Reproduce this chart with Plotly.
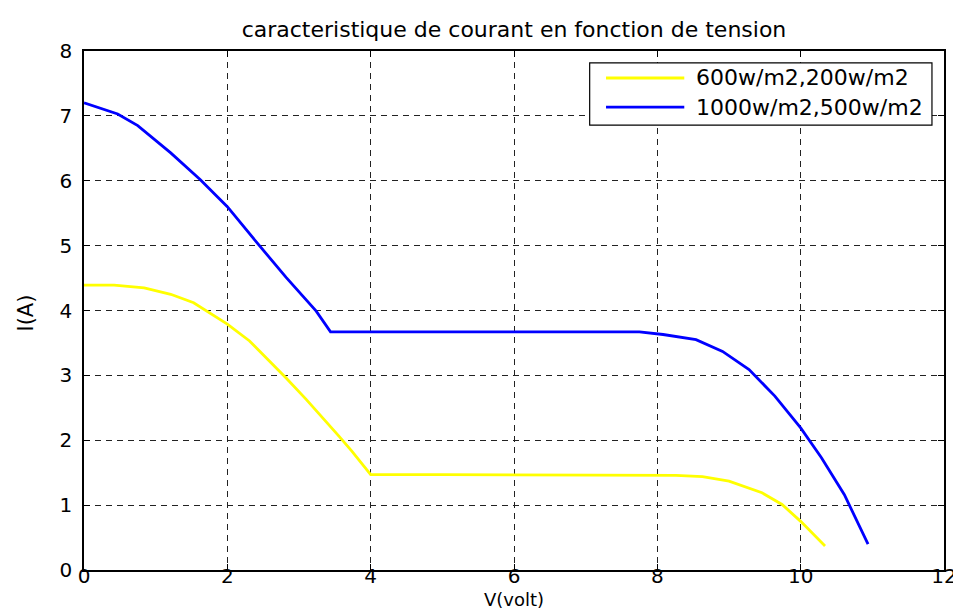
import plotly.graph_objects as go

# ---- data ----
series_names = ["600w/m2,200w/m2", "1000w/m2,500w/m2"]

v_600 = [0, 0.42, 0.84, 1.21, 1.53, 1.75, 2.0, 2.31, 2.64, 2.82, 3.10, 3.33, 3.56, 3.74, 4.0,
         5.0, 6.0, 7.0, 8.0, 8.26, 8.63, 9.0, 9.46, 9.74, 10.0, 10.34]
i_600 = [4.39, 4.39, 4.35, 4.25, 4.12, 3.97, 3.79, 3.53, 3.17, 2.96, 2.63, 2.35, 2.06, 1.83, 1.47,
         1.47, 1.47, 1.47, 1.47, 1.46, 1.44, 1.37, 1.19, 1.01, 0.75, 0.37]

v_1000 = [0, 0.47, 0.75, 1.21, 1.62, 2.0, 2.41, 2.82, 3.24, 3.44,
          5.0, 6.0, 7.0, 7.75, 8.08, 8.54, 8.91, 9.28, 9.64, 10.0, 10.29, 10.61, 10.94]
i_1000 = [7.2, 7.03, 6.85, 6.43, 6.02, 5.6, 5.05, 4.51, 3.99, 3.67,
          3.67, 3.67, 3.67, 3.67, 3.63, 3.55, 3.37, 3.09, 2.68, 2.19, 1.73, 1.16, 0.40]

x_ticks = [0, 2, 4, 6, 8, 10, 12]
y_ticks = [0, 1, 2, 3, 4, 5, 6, 7, 8]

colors = ["#FFFF00", "#0000FF"]
FONT = "DejaVu Sans"

fig = go.Figure()
for name, xs, ys, c in [(series_names[0], v_600, i_600, colors[0]),
                        (series_names[1], v_1000, i_1000, colors[1])]:
    fig.add_trace(go.Scatter(x=xs, y=ys, mode="lines", name=name,
                             line=dict(color=c, width=2.8), showlegend=False))

axis_common = dict(
    showline=True, linecolor="black", linewidth=1.5, mirror="ticks",
    ticks="inside", ticklen=6, tickcolor="black", tickwidth=1,
    showgrid=True, gridcolor="#222222", gridwidth=1, griddash="6px,5px",
    zeroline=False, tickfont=dict(family=FONT, size=20, color="black"),
)

fig.update_layout(
    width=961, height=614,
    margin=dict(l=76, r=17, t=43, b=52),
    paper_bgcolor="white", plot_bgcolor="white",
    title=dict(text="caracteristique de courant en fonction de tension",
               x=0.5, xanchor="center", xref="paper",
               y=1 - 21 / 614, yref="container", yanchor="middle",
               font=dict(family=FONT, size=22, color="black")),
    xaxis=dict(range=[0, 12], tickvals=x_ticks, ticklabelstandoff=-13, **axis_common),
    yaxis=dict(range=[0, 8], tickvals=y_ticks, ticklabelstandoff=6, **axis_common),
)

# axis titles
fig.add_annotation(xref="paper", yref="paper", x=0.5, y=-(591 - 562) / 519,
                   xanchor="center", yanchor="middle", showarrow=False, text="V(volt)",
                   borderpad=0, font=dict(family=FONT, size=18, color="black"))
fig.add_annotation(xref="paper", yref="paper", x=-(76 - 17) / 868, y=(562 - 305) / 519,
                   xanchor="center", yanchor="middle", showarrow=False, text="I(A)",
                   textangle=-90, font=dict(family=FONT, size=21, color="black"))

# legend box drawn in the upper right (paper coordinates)
lx0, lx1, ly0, ly1 = 0.588, 0.986, 0.857, 0.977
fig.add_shape(type="rect", xref="paper", yref="paper", x0=lx0, x1=lx1, y0=ly0, y1=ly1,
              line=dict(color="black", width=1.2), fillcolor="white", layer="above")
row_y = [0.948, 0.892]
for k in range(2):
    fig.add_shape(type="line", xref="paper", yref="paper",
                  x0=0.607, x1=0.698, y0=row_y[k], y1=row_y[k],
                  line=dict(color=colors[k], width=2.8), layer="above")
    fig.add_annotation(xref="paper", yref="paper", x=0.709, y=row_y[k],
                       xanchor="left", yanchor="middle", showarrow=False,
                       text=series_names[k],
                       font=dict(family=FONT, size=22, color="black"))

fig.write_html("out.html")
